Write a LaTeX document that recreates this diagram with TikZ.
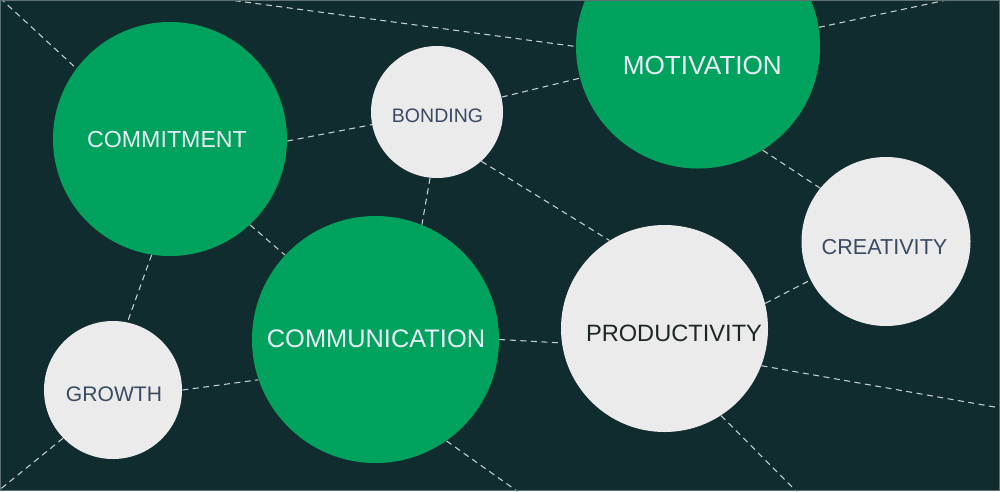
\documentclass[tikz,border=0pt]{standalone}
\usepackage{fontspec}
\setmainfont{Liberation Sans}
\definecolor{bgteal}{HTML}{102C2E}
\definecolor{framegrey}{HTML}{5E7070}
\definecolor{bubblegreen}{HTML}{00A25E}
\definecolor{bubblegrey}{HTML}{EBEBEB}
\definecolor{lightword}{HTML}{E8EEF6}
\definecolor{slateword}{HTML}{3A4A62}
\definecolor{darkword}{HTML}{1E2626}
\definecolor{linkgrey}{HTML}{C9D1D1}
\tikzset{
  bubble/.style={circle, inner sep=0pt, minimum size=#1},
  greenbubble/.style={bubble=#1, fill=bubblegreen},
  greybubble/.style={bubble=#1, fill=bubblegrey},
  link/.style={draw=linkgrey, line width=0.6pt, dash pattern=on 1.2mm off 0.9mm},
}
\begin{document}
\begin{tikzpicture}[x=0.2mm,y=-0.2mm]
\useasboundingbox (0,0) rectangle (1000,491);
\fill[bgteal] (0,0) rectangle (1000,491);
\begin{scope}
\clip (0,0) rectangle (1000,491);
% bubbles
\node[greenbubble=46.8mm, label={[font=\fontsize{13.2}{15}\selectfont, text=lightword, shift={(-3,0.5)}]center:COMMITMENT}] (commit) at (170,139) {};
\node[greybubble=26.4mm, label={[font=\fontsize{11.1}{13}\selectfont, text=slateword, shift={(0.5,4)}]center:BONDING}] (bond) at (437,112) {};
\node[greenbubble=48.8mm, label={[font=\fontsize{14.9}{17}\selectfont, text=lightword, shift={(4.3,19)}]center:MOTIVATION}] (motiv) at (698,46.5) {};
\node[greybubble=33.8mm, label={[font=\fontsize{12.3}{14}\selectfont, text=slateword, shift={(-1.5,5.5)}]center:CREATIVITY}] (creat) at (886,241.5) {};
\node[greybubble=41.4mm, label={[font=\fontsize{13.45}{15}\selectfont, text=darkword, shift={(9.5,4.8)}]center:PRODUCTIVITY}] (prod) at (664.5,328.5) {};
\node[greenbubble=49.4mm, label={[font=\fontsize{14.45}{17}\selectfont, text=lightword, shift={(0.5,-0.5)}]center:COMMUNICATION}] (commun) at (375.5,339.5) {};
\node[greybubble=27.6mm, label={[font=\fontsize{12}{14}\selectfont, text=slateword, shift={(1,4)}]center:GROWTH}] (growth) at (113,390) {};
% loose ends past the edge
\coordinate (edgeTL) at (0,-2);
\coordinate (edgeTM) at (193,-5);
\coordinate (edgeTR) at (970,-5);
\coordinate (edgeBL) at (-8,496);
\coordinate (edgeBM) at (524,496);
\coordinate (edgeBR) at (801,496);
\coordinate (edgeR) at (1006,409);
% dashed links
\foreach \a/\b in {commit.-1.5/bond.191, bond.13.6/motiv.195.6, motiv.-58.3/creat.141,
  bond.-48.1/prod.122.6, bond.264/commun.68, commit.-47.7/commun.137.6,
  commit.-99.8/growth.78.4, growth.0/commun.199, commun.-0.2/prod.188,
  prod.14.4/creat.207.4, edgeTL/commit.143.2, edgeTM/motiv.180.2,
  motiv.9.1/edgeTR, growth.224.4/edgeBL, commun.-55.9/edgeBM,
  prod.-21.9/edgeR, prod.-57.6/edgeBR}
{
  \draw[link] (\a) -- (\b);
}
\end{scope}
\draw[framegrey, line width=0.5pt] (0.5,0.5) rectangle (999.5,490.5);
\end{tikzpicture}
\end{document}
